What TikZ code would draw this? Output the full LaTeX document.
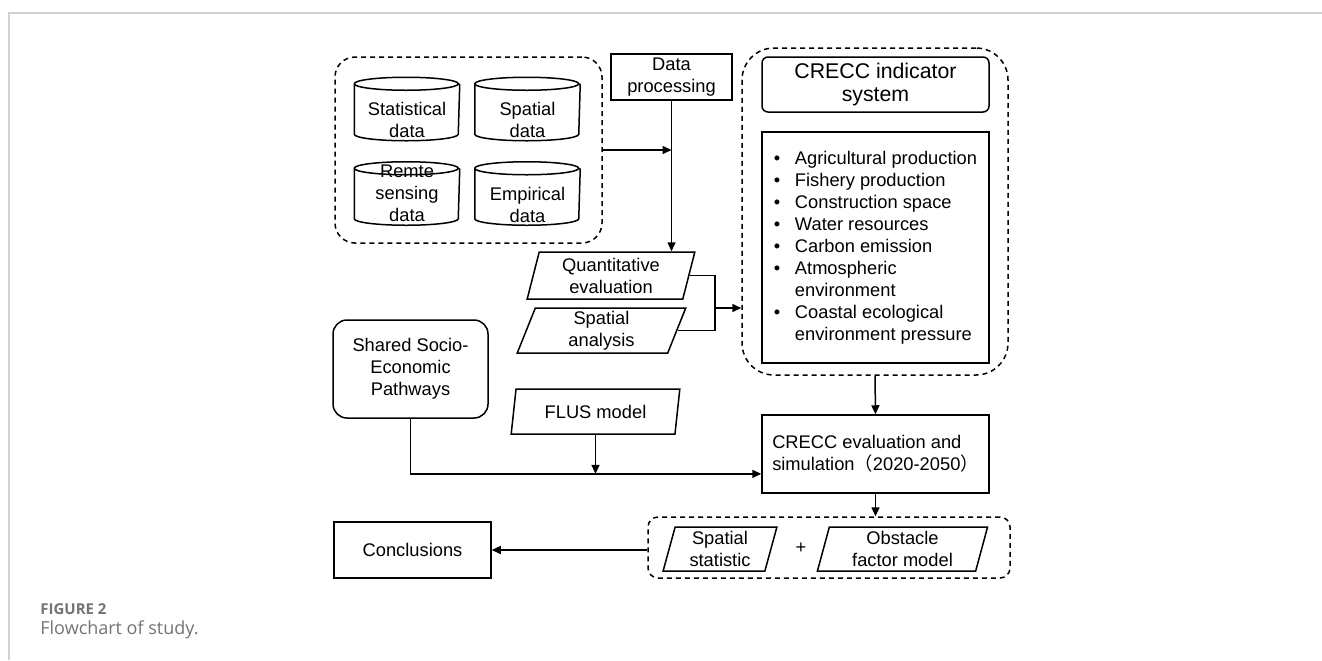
\documentclass[tikz,border=0pt]{standalone}
\usepackage{fontspec}
\setmainfont{Liberation Sans}
\newfontfamily\cjk{Noto Sans CJK SC}
\newfontfamily\capfont{Open Sans}
\usetikzlibrary{shapes.geometric, arrows.meta, calc}

\newcommand{\bul}{\makebox[10.5pt][l]{\textbullet}}
\newcommand{\cnt}{\hspace*{10.5pt}}

\begin{document}
\begin{tikzpicture}[x=0.5pt, y=-0.5pt]
  % Define styles
  \tikzstyle{diag} = [font=\fontsize{9.15}{11}\selectfont, line width=0.75pt, align=center, inner sep=0pt]
  \tikzstyle{procbox} = [diag, draw, rectangle]
  \tikzstyle{roundbox} = [diag, draw, rounded corners=7pt]
  \tikzstyle{iobox} = [diag, draw, trapezium, trapezium left angle=77, trapezium right angle=103, trapezium stretches=true]
  \tikzstyle{dbcyl} = [diag, minimum width=52pt, minimum height=31pt]
  \tikzstyle{groupbox} = [draw, line width=0.75pt, dash pattern=on 2.5pt off 2pt, inner sep=0pt]
  \tikzstyle{link} = [line width=0.75pt]
  \tikzstyle{flow} = [link, -{Triangle[length=4.5pt, width=4pt]}]

  \useasboundingbox (0,0) rectangle (1322,660);
  \draw[line width=0.75pt, draw=black!18] (1322,13) -| (9,660);

  % Groups
  \node[groupbox, rounded corners=10pt, minimum width=133.5pt, minimum height=93pt] (srcgroup) at (468.5,150) {};
  \node[groupbox, rounded corners=16pt, minimum width=133pt, minimum height=163.5pt] (indgroup) at (875,211.5) {};
  \node[groupbox, rounded corners=5pt, minimum width=181pt, minimum height=30.5pt] (outgroup) at (829,547.5) {};

  % Data sources
  \node[dbcyl, label={[diag, yshift=-5.5pt]center:Statistical\\data}] (stat) at (407,109) {};
  \node[dbcyl, label={[diag, yshift=-5.5pt]center:Spatial\\data}] (spat) at (527.5,109) {};
  \node[dbcyl, label={[diag]center:Remte\\sensing\\data}] (remte) at (407,193.5) {};
  \node[dbcyl, label={[diag, yshift=-5.75pt]center:Empirical\\data}] (empir) at (527.5,193.5) {};
  \foreach \db in {stat,spat,remte,empir} {
    \draw[link] ([yshift=-3.25pt]\db.north west)
      arc[start angle=180, end angle=360, x radius=26pt, y radius=3.25pt]
      arc[start angle=0, end angle=180, x radius=26pt, y radius=3.25pt]
      -- ([yshift=3.25pt]\db.south west)
      arc[start angle=180, end angle=360, x radius=26pt, y radius=3.25pt]
      -- ([yshift=-3.25pt]\db.north east);
  }

  % Nodes
  \node[procbox, minimum width=60.5pt, minimum height=23pt] (dataproc) at (671.5,77) {Data\\processing};
  \node[procbox, rounded corners=3pt, minimum width=113.5pt, minimum height=27.5pt, font=\fontsize{10.65}{11.5}\selectfont] (indtitle) at (875.5,84.5) {CRECC indicator\\system};
  \node[procbox, minimum width=113.5pt, minimum height=115.5pt, align=left] (indlist) at (875.5,247.5) {\bul Agricultural production\\
    \bul Fishery production\\
    \bul Construction space\\
    \bul Water resources\\
    \bul Carbon emission\\
    \bul Atmospheric\\
    \cnt environment\\
    \bul Coastal ecological\\
    \cnt environment pressure};
  \node[iobox, minimum width=84pt, minimum height=23.5pt] (quant) at (611,275.5) {Quantitative\\evaluation};
  \node[iobox, minimum width=84.5pt, minimum height=22.5pt] (spana) at (601.5,330.5) {Spatial\\analysis};
  \node[roundbox, minimum width=77.5pt, minimum height=49pt] (ssp) at (410.5,369) {Shared Socio-\\Economic\\Pathways};
  \node[iobox, minimum width=84.5pt, minimum height=22.5pt] (flus) at (595.5,411.5) {FLUS model};
  \node[procbox, minimum width=113.5pt, minimum height=39pt, align=left] (evalbox) at (875.5,454) {CRECC evaluation and\\simulation{\cjk （}2020-2050{\cjk ）}};
  \node[procbox, minimum width=78.5pt, minimum height=28pt] (concl) at (412.5,550) {Conclusions};
  \node[iobox, minimum width=57pt, minimum height=22pt] (spstat) at (720,549) {Spatial\\statistic};
  \node[diag] (plus) at (801,548) {+};
  \node[iobox, minimum width=85.5pt, minimum height=22pt] (obstacle) at (902.5,549) {Obstacle\\factor model};

  % Caption
  \node[anchor=west, inner sep=0pt, text=black!55, font=\capfont\bfseries\fontsize{7.5}{9}\selectfont] (figno) at (40,609) {FIGURE 2};
  \node[anchor=west, inner sep=0pt, text=black!55, font=\capfont\fontsize{9}{11}\selectfont] (figcap) at (40,630) {Flowchart of study.};

  % Edges
  \coordinate (merge) at (715,308);
  \coordinate (sspjoin) at ($(evalbox.south west)!0.25!(evalbox.north west)$);
  \draw[flow] (dataproc.south) -- (dataproc.south |- quant.north);
  \draw[flow] (srcgroup.east) -- (srcgroup.east -| dataproc.south);
  \draw[link] (quant.east) -| (merge) |- (spana.east);
  \draw[flow] (merge) -- (merge -| indgroup.west);
  \draw[flow] (indgroup.south) -- (evalbox.north);
  \draw[flow] (ssp.south) |- (sspjoin);
  \draw[flow] (flus.south) -- (flus.south |- sspjoin);
  \draw[flow] (evalbox.south) -- (evalbox.south |- outgroup.north);
  \draw[flow] (concl.east -| outgroup.west) -- (concl.east);
\end{tikzpicture}
\end{document}
